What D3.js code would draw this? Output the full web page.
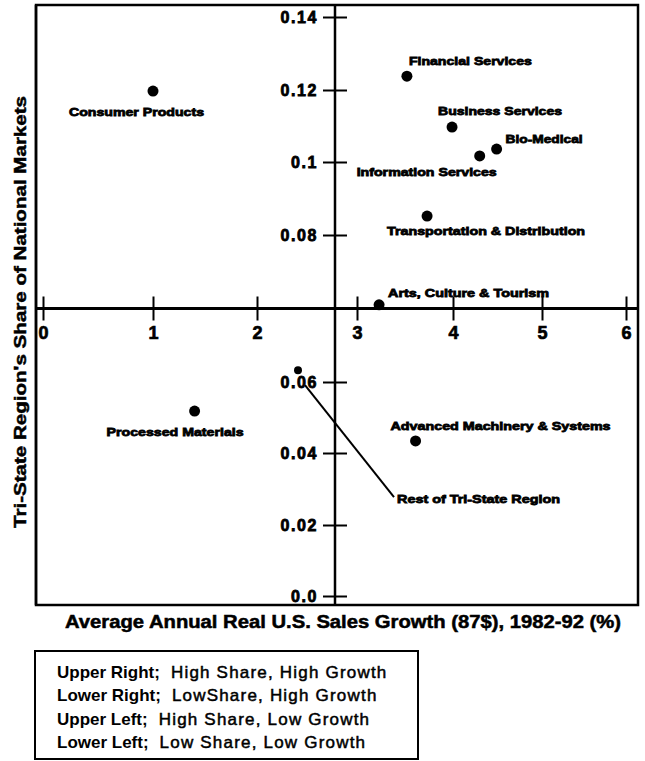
<!DOCTYPE html>
<html><head><meta charset="utf-8">
<script src="https://cdn.jsdelivr.net/npm/d3@7"></script>
<style>body{margin:0;background:#fff}svg{display:block}text{font-family:"Liberation Sans",Arial,Helvetica,sans-serif}</style>
</head><body><svg id="c" width="645" height="761"></svg>
<script>
// ---- data ----
const industries = ["Consumer Products","Financial Services","Business Services","Bio-Medical","Information Services","Transportation & Distribution","Arts, Culture & Tourism","Processed Materials","Advanced Machinery & Systems","Rest of Tri-State Region"];
const salesGrowth = [1.0, 3.52, 3.99, 4.49, 4.30, 3.73, 3.23, 1.40, 3.61, 2.41];
const nationalShare = [0.1197, 0.1238, 0.1097, 0.1036, 0.1017, 0.0852, 0.0705, 0.0518, 0.0434, 0.0616];
const xTickValues = [0, 1, 2, 3, 4, 5, 6];
const xTickLabels = ["0", "1", "2", "3", "4", "5", "6"];
const yTickValues = [0, 0.02, 0.04, 0.06, 0.08, 0.10, 0.12, 0.14];
const yTickLabels = ["0.0", "0.02", "0.04", "0.06", "0.08", "0.1", "0.12", "0.14"];
const growthCross = 2.78;   // quadrant divider on growth axis
const shareCross = 0.07;    // quadrant divider on share axis
const xTitle = "Average Annual Real U.S. Sales Growth (87$), 1982-92 (%)";
const yTitle = "Tri-State Region's Share of National Markets";
const legendKeys = ["Upper Right;", "Lower Right;", "Upper Left;", "Lower Left;"];
const legendDescs = ["High Share, High Growth", "LowShare, High Growth", "High Share, Low Growth", "Low Share, Low Growth"];

// ---- layout ----
const labelLayout = {
  "Consumer Products": {dx: -84, dy: 25, w: 135},
  "Financial Services": {dx: 2, dy: -11, w: 123},
  "Business Services": {dx: -14, dy: -12, w: 124},
  "Bio-Medical": {dx: 9, dy: -6, w: 77},
  "Information Services": {dx: -123, dy: 20, w: 140},
  "Transportation & Distribution": {dx: -40, dy: 19, w: 198},
  "Arts, Culture & Tourism": {dx: 9, dy: -8, w: 161},
  "Processed Materials": {dx: -88, dy: 25, w: 137},
  "Advanced Machinery & Systems": {dx: -25, dy: -11, w: 220},
  "Rest of Tri-State Region": {dx: 99, dy: 133, w: 163, leader: [7, 15, 96, 127]}
};
const frame = {left: 36, top: 5, right: 638, bottom: 605};
const FONT = '"Liberation Sans",Arial,Helvetica,sans-serif';

const svg = d3.select("#c");
svg.append("rect").attr("width", 645).attr("height", 761).attr("fill", "#fff");

const x = d3.scaleLinear().domain(xTickValues).range([43, 153, 257, 357, 453, 542, 626]);
const y = d3.scaleLinear().domain(yTickValues).range([596, 525, 453, 382, 235, 162, 90, 17]);
const X0 = x(growthCross), Y0 = y(shareCross);

const pts = industries.map((name, i) => ({name, gx: salesGrowth[i], sh: nationalShare[i]}));

// frame
svg.append("rect").attr("x", frame.left).attr("y", frame.top)
  .attr("width", frame.right - frame.left).attr("height", frame.bottom - frame.top)
  .attr("fill", "none").attr("stroke", "#000").attr("stroke-width", 2.5);

// quadrant axis lines
svg.append("line").attr("x1", X0).attr("x2", X0).attr("y1", frame.top).attr("y2", frame.bottom)
  .attr("stroke", "#000").attr("stroke-width", 2.5);
svg.append("line").attr("x1", frame.left).attr("x2", frame.right).attr("y1", Y0).attr("y2", Y0)
  .attr("stroke", "#000").attr("stroke-width", 3);

// leader lines
pts.forEach(p => {
  const L = labelLayout[p.name];
  if (L.leader) {
    svg.append("line")
      .attr("x1", x(p.gx) + L.leader[0]).attr("y1", y(p.sh) + L.leader[1])
      .attr("x2", x(p.gx) + L.leader[2]).attr("y2", y(p.sh) + L.leader[3])
      .attr("stroke", "#000").attr("stroke-width", 2);
  }
});

// dots
svg.append("g").selectAll("circle").data(pts).join("circle")
  .attr("cx", d => x(d.gx)).attr("cy", d => y(d.sh))
  .attr("r", d => d.name === "Rest of Tri-State Region" ? 4 : 5.5)
  .attr("fill", "#000");

// point labels
svg.append("g").selectAll("text").data(pts).join("text")
  .attr("x", d => x(d.gx) + labelLayout[d.name].dx)
  .attr("y", d => y(d.sh) + labelLayout[d.name].dy)
  .attr("font-size", 11.5).attr("font-weight", "bold")
  .attr("stroke", "#000").attr("stroke-width", 0.8)
  .attr("textLength", d => labelLayout[d.name].w).attr("lengthAdjust", "spacingAndGlyphs")
  .text(d => d.name);

// y axis (ticks crossing)
const gyL = svg.append("g").attr("transform", `translate(${X0},0)`)
  .call(d3.axisLeft(y).tickValues(yTickValues).tickSize(12).tickPadding(5)
    .tickFormat((d, i) => yTickLabels[i]));
const gyR = svg.append("g").attr("transform", `translate(${X0},0)`)
  .call(d3.axisRight(y).tickValues(yTickValues).tickSize(12).tickFormat(""));
[gyL, gyR].forEach(g => { g.select(".domain").remove(); g.selectAll("line").attr("stroke", "#000").attr("stroke-width", 2); });
gyL.selectAll("text").attr("font-family", FONT).attr("font-size", 16).attr("font-weight", "bold")
  .attr("fill", "#000").attr("stroke", "#000").attr("stroke-width", 0.8).attr("letter-spacing", 1.6);

// x axis (ticks crossing)
const gxB = svg.append("g").attr("transform", `translate(0,${Y0})`)
  .call(d3.axisBottom(x).tickValues(xTickValues).tickSize(12).tickPadding(6)
    .tickFormat((d, i) => xTickLabels[i]));
const gxT = svg.append("g").attr("transform", `translate(0,${Y0})`)
  .call(d3.axisTop(x).tickValues(xTickValues).tickSize(12).tickFormat(""));
[gxB, gxT].forEach(g => { g.select(".domain").remove(); g.selectAll("line").attr("stroke", "#000").attr("stroke-width", 2); });
gxB.selectAll("text").attr("font-family", FONT).attr("font-size", 18).attr("font-weight", "bold")
  .attr("fill", "#000").attr("stroke", "#000").attr("stroke-width", 0.7);

// redraw left frame edge over the "0" label (as in the original)
svg.append("line").attr("x1", frame.left).attr("x2", frame.left).attr("y1", frame.top).attr("y2", frame.bottom)
  .attr("stroke", "#000").attr("stroke-width", 2.5);

// axis titles
svg.append("text").attr("x", 343).attr("y", 628).attr("text-anchor", "middle")
  .attr("font-size", 17.5).attr("font-weight", "bold").attr("stroke", "#000").attr("stroke-width", 0.5)
  .attr("textLength", 556).attr("lengthAdjust", "spacingAndGlyphs")
  .text(xTitle);
svg.append("text").attr("transform", "translate(26,312) rotate(-90)").attr("text-anchor", "middle")
  .attr("font-size", 17).attr("font-weight", "bold").attr("stroke", "#000").attr("stroke-width", 0.5)
  .attr("textLength", 432).attr("lengthAdjust", "spacingAndGlyphs")
  .text(yTitle);

// legend box
svg.append("rect").attr("x", 35).attr("y", 651).attr("width", 383).attr("height", 108)
  .attr("fill", "none").attr("stroke", "#000").attr("stroke-width", 2);
const lg = svg.append("g");
legendKeys.forEach((k, i) => {
  const t = lg.append("text").attr("x", 57).attr("y", 678 + i * 23.4).attr("font-size", 17).attr("fill", "#000");
  t.append("tspan").attr("font-weight", "bold").text(k);
  t.append("tspan").attr("dx", 11).attr("stroke", "#000").attr("stroke-width", 0.5)
    .attr("letter-spacing", 1.2).text(legendDescs[i]);
});
</script></body></html>
